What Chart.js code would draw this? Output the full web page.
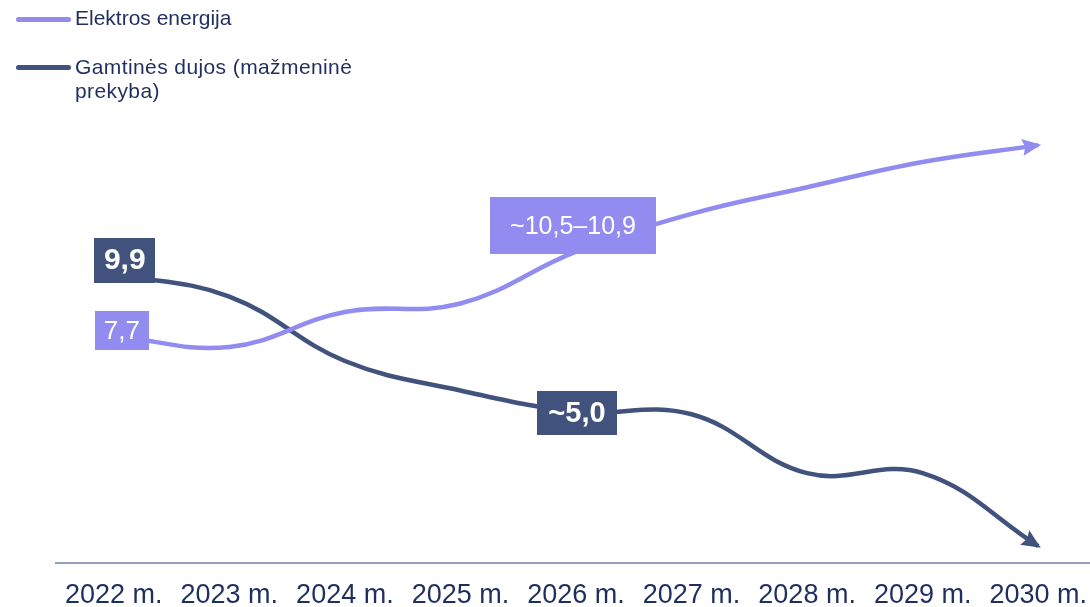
<!DOCTYPE html>
<html>
<head>
<meta charset="utf-8">
<script src="https://cdn.jsdelivr.net/npm/chart.js@4"></script>
<style>
  html, body { margin: 0; padding: 0; background: #fff; overflow: hidden; }
  body { width: 1090px; height: 607px; position: relative; font-family: "Liberation Sans", Arial, sans-serif; }
  #wrap { position: absolute; left: 0; top: 0; width: 1090px; height: 607px; overflow: hidden; }
  .legend-item { position: absolute; left: 0; color: #1e2e5e; font-size: 21px; line-height: 24px; }
  .legend-item .swatch { position: absolute; left: 16px; width: 55px; height: 5px; border-radius: 3px; }
  .legend-item .text { position: absolute; left: 75px; width: 300px; white-space: normal; }
</style>
</head>
<body>
<div id="wrap"><canvas id="priceChart" width="1104" height="629"></canvas></div>

<div class="legend-item" style="top:0">
  <span class="swatch" style="top:17px;background:#928cf0"></span>
  <span class="text" style="top:6px">Elektros energija</span>
</div>
<div class="legend-item" style="top:48px">
  <span class="swatch" style="top:17px;background:#41527c"></span>
  <span class="text" style="top:7px;letter-spacing:0.4px">Gamtinės dujos (mažmeninė prekyba)</span>
</div>

<script>
const years = ['2022 m.', '2023 m.', '2024 m.', '2025 m.', '2026 m.', '2027 m.', '2028 m.', '2029 m.', '2030 m.'];
const electricity = [7.7, 7.3, 8.55, 8.85, 10.7, 12.05, 13.0, 13.9, 14.5];
const gas = [9.9, 9.1, 6.8, 5.75, 5.0, 4.9, 2.8, 2.8, 0.2];

const LIGHT = '#928cf0';
const DARK = '#41527c';
const FONT = '"Liberation Sans", Arial, sans-serif';

// value boxes sitting on the lines
const valueLabels = [
  { ds: 1, i: 0, text: '9,9', bold: true, size: 30, w: 61, h: 45, dx: 11, dy: -14, bg: DARK },
  { ds: 0, i: 0, text: '7,7', bold: false, size: 26, w: 54, h: 39, dx: 8, dy: -5, bg: LIGHT },
  { ds: 0, i: 4, text: '~10,5–10,9', bold: false, size: 25, w: 166, h: 57, dx: -3, dy: -26, bg: LIGHT },
  { ds: 1, i: 4, text: '~5,0', bold: true, size: 29, w: 80, h: 44, dx: 1, dy: 2, bg: DARK }
];

const arrowHeads = {
  id: 'arrowHeads',
  afterDatasetsDraw(chart) {
    const ctx = chart.ctx;
    chart.data.datasets.forEach((ds, k) => {
      const pts = chart.getDatasetMeta(k).data;
      const p = pts[pts.length - 1];
      const q = pts[pts.length - 2];
      const fx = p.cp1x !== undefined ? p.cp1x : q.x;
      const fy = p.cp1y !== undefined ? p.cp1y : q.y;
      const ang = Math.atan2(p.y - fy, p.x - fx);
      const len = 19, half = 8.5;
      const tx = p.x + 3 * Math.cos(ang), ty = p.y + 3 * Math.sin(ang);
      ctx.save();
      ctx.translate(tx, ty);
      ctx.rotate(ang);
      ctx.fillStyle = ds.borderColor;
      ctx.beginPath();
      ctx.moveTo(0, 0);
      ctx.lineTo(-len, -half);
      ctx.lineTo(-len * 0.85, 0);
      ctx.lineTo(-len, half);
      ctx.closePath();
      ctx.fill();
      ctx.restore();
    });
  }
};

const valueBoxes = {
  id: 'valueBoxes',
  afterDatasetsDraw(chart) {
    const ctx = chart.ctx;
    valueLabels.forEach(l => {
      const p = chart.getDatasetMeta(l.ds).data[l.i];
      const cx = p.x + l.dx, cy = p.y + l.dy;
      ctx.save();
      ctx.fillStyle = l.bg;
      ctx.fillRect(Math.round(cx - l.w / 2), Math.round(cy - l.h / 2), l.w, l.h);
      ctx.fillStyle = '#ffffff';
      ctx.font = (l.bold ? 'bold ' : '') + l.size + 'px ' + FONT;
      ctx.textAlign = 'center';
      ctx.textBaseline = 'middle';
      ctx.fillText(l.text, cx, cy + 1);
      ctx.restore();
    });
  }
};

new Chart(document.getElementById('priceChart'), {
  type: 'line',
  data: {
    labels: years,
    datasets: [
      { label: 'Elektros energija', data: electricity, borderColor: LIGHT, backgroundColor: LIGHT,
        borderWidth: 4.5, pointRadius: 0, tension: 0.4, clip: false },
      { label: 'Gamtinės dujos (mažmeninė prekyba)', data: gas, borderColor: DARK, backgroundColor: DARK,
        borderWidth: 4.5, pointRadius: 0, tension: 0.4, clip: false }
    ]
  },
  options: {
    responsive: false,
    animation: false,
    layout: { padding: { top: 100, left: 56, right: 0, bottom: 0 } },
    plugins: { legend: { display: false }, tooltip: { enabled: false } },
    scales: {
      x: {
        offset: true,
        grid: { display: false, drawTicks: false },
        border: { display: true, color: '#95a0bb', width: 2 },
        ticks: { color: '#1e2e5e', font: { family: FONT, size: 27 }, padding: 17, maxRotation: 0, autoSkip: false }
      },
      y: { display: false, min: -0.39, max: 16.11 }
    }
  },
  plugins: [arrowHeads, valueBoxes]
});
</script>
</body>
</html>
